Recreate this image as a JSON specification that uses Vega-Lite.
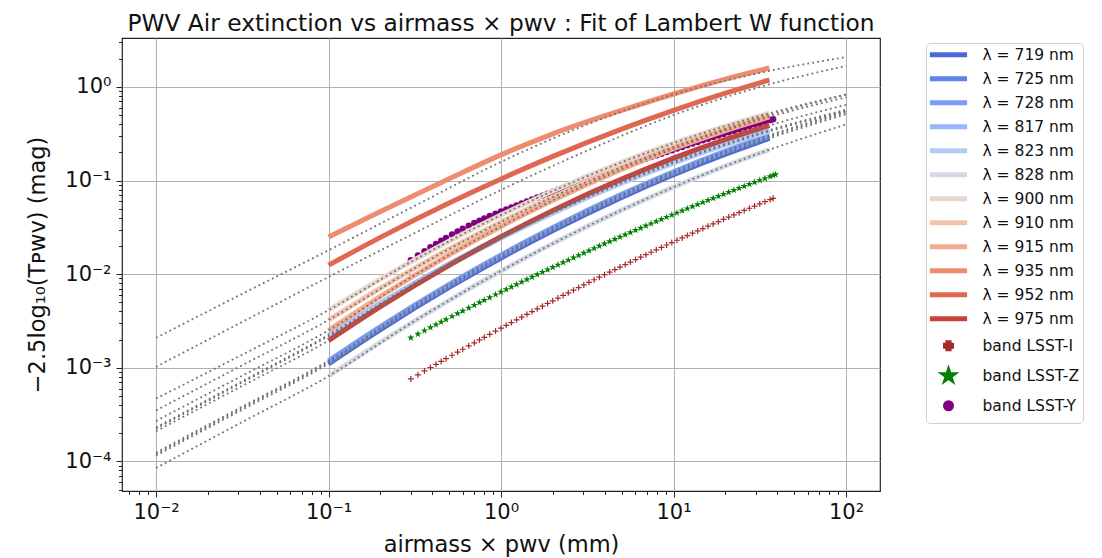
{
"$schema":"https://vega.github.io/schema/vega-lite/v6.json",
"width":758,"height":453,
"autosize":{"type":"none"},
"padding":{"left":122,"top":38,"right":222,"bottom":67},
"background":"white",
"config":{
 "font":"DejaVu Sans",
 "view":{"stroke":"#222","strokeWidth":1.2},
 "axis":{"domain":false,"labelFont":"DejaVu Sans","titleFont":"DejaVu Sans","labelFontSize":21,"titleFontSize":22.5,"titleFontWeight":"normal","labelColor":"#111","titleColor":"#111","tickColor":"#222","labelOverlap":false,"labelFlush":false,"tickSize":6},
 "title":{"font":"DejaVu Sans","fontSize":23.3,"fontWeight":"normal","color":"#111"}
},
"title":{"text":"PWV Air extinction vs airmass × pwv : Fit of Lambert W function","offset":-5},
"datasets":{
"lines":[
{"s":"λ = 719 nm","x":0.1,"y":0.001102},{"s":"λ = 719 nm","x":0.2,"y":0.002559},{"s":"λ = 719 nm","x":0.5,"y":0.007215},{"s":"λ = 719 nm","x":1,"y":0.0149},{"s":"λ = 719 nm","x":2,"y":0.02926},{"s":"λ = 719 nm","x":5,"y":0.06609},{"s":"λ = 719 nm","x":10,"y":0.1154},{"s":"λ = 719 nm","x":20,"y":0.1916},{"s":"λ = 719 nm","x":36,"y":0.283},
{"s":"λ = 725 nm","x":0.1,"y":0.001148},{"s":"λ = 725 nm","x":0.2,"y":0.002666},{"s":"λ = 725 nm","x":0.5,"y":0.007516},{"s":"λ = 725 nm","x":1,"y":0.01552},{"s":"λ = 725 nm","x":2,"y":0.03048},{"s":"λ = 725 nm","x":5,"y":0.06884},{"s":"λ = 725 nm","x":10,"y":0.1202},{"s":"λ = 725 nm","x":20,"y":0.1996},{"s":"λ = 725 nm","x":36,"y":0.2948},
{"s":"λ = 728 nm","x":0.1,"y":0.001188},{"s":"λ = 728 nm","x":0.2,"y":0.002759},{"s":"λ = 728 nm","x":0.5,"y":0.007779},{"s":"λ = 728 nm","x":1,"y":0.01606},{"s":"λ = 728 nm","x":2,"y":0.03155},{"s":"λ = 728 nm","x":5,"y":0.07125},{"s":"λ = 728 nm","x":10,"y":0.1244},{"s":"λ = 728 nm","x":20,"y":0.2066},{"s":"λ = 728 nm","x":36,"y":0.3051},
{"s":"λ = 817 nm","x":0.1,"y":0.00224},{"s":"λ = 817 nm","x":0.2,"y":0.004912},{"s":"λ = 817 nm","x":0.5,"y":0.01284},{"s":"λ = 817 nm","x":1,"y":0.025},{"s":"λ = 817 nm","x":2,"y":0.04626},{"s":"λ = 817 nm","x":5,"y":0.09652},{"s":"λ = 817 nm","x":10,"y":0.1586},{"s":"λ = 817 nm","x":20,"y":0.2475},{"s":"λ = 817 nm","x":36,"y":0.3469},
{"s":"λ = 823 nm","x":0.1,"y":0.002173},{"s":"λ = 823 nm","x":0.2,"y":0.004765},{"s":"λ = 823 nm","x":0.5,"y":0.01245},{"s":"λ = 823 nm","x":1,"y":0.02425},{"s":"λ = 823 nm","x":2,"y":0.04487},{"s":"λ = 823 nm","x":5,"y":0.09362},{"s":"λ = 823 nm","x":10,"y":0.1538},{"s":"λ = 823 nm","x":20,"y":0.2401},{"s":"λ = 823 nm","x":36,"y":0.3365},
{"s":"λ = 828 nm","x":0.1,"y":0.0008137},{"s":"λ = 828 nm","x":0.2,"y":0.001873},{"s":"λ = 828 nm","x":0.5,"y":0.005245},{"s":"λ = 828 nm","x":1,"y":0.01081},{"s":"λ = 828 nm","x":2,"y":0.02127},{"s":"λ = 828 nm","x":5,"y":0.04834},{"s":"λ = 828 nm","x":10,"y":0.08517},{"s":"λ = 828 nm","x":20,"y":0.1431},{"s":"λ = 828 nm","x":36,"y":0.2139},
{"s":"λ = 900 nm","x":0.1,"y":0.004121},{"s":"λ = 900 nm","x":0.2,"y":0.00885},{"s":"λ = 900 nm","x":0.5,"y":0.02249},{"s":"λ = 900 nm","x":1,"y":0.0428},{"s":"λ = 900 nm","x":2,"y":0.07745},{"s":"λ = 900 nm","x":5,"y":0.1567},{"s":"λ = 900 nm","x":10,"y":0.2512},{"s":"λ = 900 nm","x":20,"y":0.3828},{"s":"λ = 900 nm","x":36,"y":0.5248},
{"s":"λ = 910 nm","x":0.1,"y":0.003236},{"s":"λ = 910 nm","x":0.2,"y":0.0071},{"s":"λ = 910 nm","x":0.5,"y":0.01855},{"s":"λ = 910 nm","x":1,"y":0.03614},{"s":"λ = 910 nm","x":2,"y":0.0669},{"s":"λ = 910 nm","x":5,"y":0.1395},{"s":"λ = 910 nm","x":10,"y":0.2293},{"s":"λ = 910 nm","x":20,"y":0.3578},{"s":"λ = 910 nm","x":36,"y":0.5014},
{"s":"λ = 915 nm","x":0.1,"y":0.002512},{"s":"λ = 915 nm","x":0.2,"y":0.0058},{"s":"λ = 915 nm","x":0.5,"y":0.01604},{"s":"λ = 915 nm","x":1,"y":0.03236},{"s":"λ = 915 nm","x":2,"y":0.06155},{"s":"λ = 915 nm","x":5,"y":0.1317},{"s":"λ = 915 nm","x":10,"y":0.2188},{"s":"λ = 915 nm","x":20,"y":0.3428},{"s":"λ = 915 nm","x":36,"y":0.4789},
{"s":"λ = 935 nm","x":0.1,"y":0.02489},{"s":"λ = 935 nm","x":0.2,"y":0.04677},{"s":"λ = 935 nm","x":0.5,"y":0.1047},{"s":"λ = 935 nm","x":1,"y":0.1884},{"s":"λ = 935 nm","x":2,"y":0.3162},{"s":"λ = 935 nm","x":5,"y":0.5623},{"s":"λ = 935 nm","x":10,"y":0.8414},{"s":"λ = 935 nm","x":20,"y":1.216},{"s":"λ = 935 nm","x":36,"y":1.596},
{"s":"λ = 952 nm","x":0.1,"y":0.01248},{"s":"λ = 952 nm","x":0.2,"y":0.02474},{"s":"λ = 952 nm","x":0.5,"y":0.05762},{"s":"λ = 952 nm","x":1,"y":0.1042},{"s":"λ = 952 nm","x":2,"y":0.1813},{"s":"λ = 952 nm","x":5,"y":0.3546},{"s":"λ = 952 nm","x":10,"y":0.5625},{"s":"λ = 952 nm","x":20,"y":0.8577},{"s":"λ = 952 nm","x":36,"y":1.189},
{"s":"λ = 975 nm","x":0.1,"y":0.00195},{"s":"λ = 975 nm","x":0.2,"y":0.004494},{"s":"λ = 975 nm","x":0.5,"y":0.01243},{"s":"λ = 975 nm","x":1,"y":0.02512},{"s":"λ = 975 nm","x":2,"y":0.048},{"s":"λ = 975 nm","x":5,"y":0.1036},{"s":"λ = 975 nm","x":10,"y":0.1738},{"s":"λ = 975 nm","x":20,"y":0.2754},{"s":"λ = 975 nm","x":36,"y":0.3894}
],
"fits":[
{"s":"719","x":0.01,"y":0.0001152},{"s":"719","x":0.03162,"y":0.0003566},{"s":"719","x":0.1,"y":0.001102},{"s":"719","x":0.3162,"y":0.004344},{"s":"719","x":1,"y":0.0149},{"s":"719","x":3.162,"y":0.04446},{"s":"719","x":10,"y":0.1154},{"s":"719","x":31.62,"y":0.2605},{"s":"719","x":100,"y":0.512},
{"s":"725","x":0.01,"y":0.00012},{"s":"725","x":0.03162,"y":0.0003715},{"s":"725","x":0.1,"y":0.001148},{"s":"725","x":0.3162,"y":0.004525},{"s":"725","x":1,"y":0.01552},{"s":"725","x":3.162,"y":0.04631},{"s":"725","x":10,"y":0.1202},{"s":"725","x":31.62,"y":0.2714},{"s":"725","x":100,"y":0.5333},
{"s":"728","x":0.01,"y":0.0001242},{"s":"728","x":0.03162,"y":0.0003845},{"s":"728","x":0.1,"y":0.001188},{"s":"728","x":0.3162,"y":0.004683},{"s":"728","x":1,"y":0.01606},{"s":"728","x":3.162,"y":0.04793},{"s":"728","x":10,"y":0.1244},{"s":"728","x":31.62,"y":0.2809},{"s":"728","x":100,"y":0.552},
{"s":"817","x":0.01,"y":0.00023},{"s":"817","x":0.03162,"y":0.0007178},{"s":"817","x":0.1,"y":0.00224},{"s":"817","x":0.3162,"y":0.00803},{"s":"817","x":1,"y":0.025},{"s":"817","x":3.162,"y":0.06758},{"s":"817","x":10,"y":0.1586},{"s":"817","x":31.62,"y":0.3231},{"s":"817","x":100,"y":0.5716},
{"s":"823","x":0.01,"y":0.000223},{"s":"823","x":0.03162,"y":0.0006963},{"s":"823","x":0.1,"y":0.002173},{"s":"823","x":0.3162,"y":0.007789},{"s":"823","x":1,"y":0.02425},{"s":"823","x":3.162,"y":0.06555},{"s":"823","x":10,"y":0.1538},{"s":"823","x":31.62,"y":0.3134},{"s":"823","x":100,"y":0.5545},
{"s":"828","x":0.01,"y":0.000085},{"s":"828","x":0.03162,"y":0.000263},{"s":"828","x":0.1,"y":0.0008137},{"s":"828","x":0.3162,"y":0.003167},{"s":"828","x":1,"y":0.01081},{"s":"828","x":3.162,"y":0.0324},{"s":"828","x":10,"y":0.08517},{"s":"828","x":31.62,"y":0.1964},{"s":"828","x":100,"y":0.3973},
{"s":"900","x":0.01,"y":0.0004677},{"s":"900","x":0.03162,"y":0.00138},{"s":"900","x":0.1,"y":0.004121},{"s":"900","x":0.3162,"y":0.01426},{"s":"900","x":1,"y":0.0428},{"s":"900","x":3.162,"y":0.1114},{"s":"900","x":10,"y":0.2512},{"s":"900","x":31.62,"y":0.4912},{"s":"900","x":100,"y":0.8325},
{"s":"910","x":0.01,"y":0.00035},{"s":"910","x":0.03162,"y":0.001064},{"s":"910","x":0.1,"y":0.003236},{"s":"910","x":0.3162,"y":0.01161},{"s":"910","x":1,"y":0.03614},{"s":"910","x":3.162,"y":0.09768},{"s":"910","x":10,"y":0.2293},{"s":"910","x":31.62,"y":0.467},{"s":"910","x":100,"y":0.8263},
{"s":"915","x":0.01,"y":0.00027},{"s":"915","x":0.03162,"y":0.0008222},{"s":"915","x":0.1,"y":0.002512},{"s":"915","x":0.3162,"y":0.009772},{"s":"915","x":1,"y":0.03236},{"s":"915","x":3.162,"y":0.0912},{"s":"915","x":10,"y":0.2188},{"s":"915","x":31.62,"y":0.4467},{"s":"915","x":100,"y":0.7762},
{"s":"935","x":0.01,"y":0.002089},{"s":"935","x":0.03162,"y":0.006166},{"s":"935","x":0.1,"y":0.01799},{"s":"935","x":0.3162,"y":0.0537},{"s":"935","x":1,"y":0.1585},{"s":"935","x":3.162,"y":0.3981},{"s":"935","x":10,"y":0.8318},{"s":"935","x":31.62,"y":1.413},{"s":"935","x":100,"y":2.089},
{"s":"952","x":0.01,"y":0.001023},{"s":"952","x":0.03162,"y":0.00309},{"s":"952","x":0.1,"y":0.009333},{"s":"952","x":0.3162,"y":0.02754},{"s":"952","x":1,"y":0.07943},{"s":"952","x":3.162,"y":0.2089},{"s":"952","x":10,"y":0.5012},{"s":"952","x":31.62,"y":1.0},{"s":"952","x":100,"y":1.679},
{"s":"975","x":0.01,"y":0.00021},{"s":"975","x":0.03162,"y":0.0006397},{"s":"975","x":0.1,"y":0.00195},{"s":"975","x":0.3162,"y":0.007562},{"s":"975","x":1,"y":0.02512},{"s":"975","x":3.162,"y":0.0714},{"s":"975","x":10,"y":0.1738},{"s":"975","x":31.62,"y":0.362},{"s":"975","x":100,"y":0.6457}
],
"bandI":[
{"s":"band LSST-I","x":0.3,"y":0.00076},{"s":"band LSST-I","x":0.33,"y":0.000841},{"s":"band LSST-I","x":0.36,"y":0.000924},{"s":"band LSST-I","x":0.39,"y":0.001006},{"s":"band LSST-I","x":0.42,"y":0.001087},{"s":"band LSST-I","x":0.45,"y":0.001169},{"s":"band LSST-I","x":0.48,"y":0.001251},{"s":"band LSST-I","x":0.52,"y":0.00136},{"s":"band LSST-I","x":0.56,"y":0.001469},{"s":"band LSST-I","x":0.6,"y":0.001577},{"s":"band LSST-I","x":0.65,"y":0.001713},{"s":"band LSST-I","x":0.7,"y":0.001848},{"s":"band LSST-I","x":0.75,"y":0.001982},{"s":"band LSST-I","x":0.8,"y":0.002116},{"s":"band LSST-I","x":0.86,"y":0.002277},{"s":"band LSST-I","x":0.93,"y":0.002463},
{"s":"band LSST-I","x":1.0,"y":0.002649},{"s":"band LSST-I","x":1.072,"y":0.002837},{"s":"band LSST-I","x":1.148,"y":0.003038},{"s":"band LSST-I","x":1.23,"y":0.003253},{"s":"band LSST-I","x":1.318,"y":0.003481},{"s":"band LSST-I","x":1.413,"y":0.003724},{"s":"band LSST-I","x":1.514,"y":0.003983},{"s":"band LSST-I","x":1.622,"y":0.004258},{"s":"band LSST-I","x":1.738,"y":0.00455},{"s":"band LSST-I","x":1.862,"y":0.004862},{"s":"band LSST-I","x":1.995,"y":0.005194},{"s":"band LSST-I","x":2.138,"y":0.005547},{"s":"band LSST-I","x":2.291,"y":0.005922},{"s":"band LSST-I","x":2.455,"y":0.006321},{"s":"band LSST-I","x":2.63,"y":0.006744},{"s":"band LSST-I","x":2.818,"y":0.007192},{"s":"band LSST-I","x":3.02,"y":0.007669},{"s":"band LSST-I","x":3.236,"y":0.008175},{"s":"band LSST-I","x":3.467,"y":0.008711},{"s":"band LSST-I","x":3.715,"y":0.00928},{"s":"band LSST-I","x":3.981,"y":0.009881},{"s":"band LSST-I","x":4.266,"y":0.01052},{"s":"band LSST-I","x":4.571,"y":0.01119},{"s":"band LSST-I","x":4.898,"y":0.01191},{"s":"band LSST-I","x":5.248,"y":0.01266},{"s":"band LSST-I","x":5.623,"y":0.01347},{"s":"band LSST-I","x":6.026,"y":0.01432},{"s":"band LSST-I","x":6.457,"y":0.01521},{"s":"band LSST-I","x":6.918,"y":0.01615},{"s":"band LSST-I","x":7.413,"y":0.01715},{"s":"band LSST-I","x":7.943,"y":0.0182},{"s":"band LSST-I","x":8.511,"y":0.01932},{"s":"band LSST-I","x":9.12,"y":0.02049},{"s":"band LSST-I","x":9.772,"y":0.02173},{"s":"band LSST-I","x":10.47,"y":0.02303},{"s":"band LSST-I","x":11.22,"y":0.02441},{"s":"band LSST-I","x":12.02,"y":0.02586},{"s":"band LSST-I","x":12.88,"y":0.02739},{"s":"band LSST-I","x":13.8,"y":0.02899},{"s":"band LSST-I","x":14.79,"y":0.03068},{"s":"band LSST-I","x":15.85,"y":0.03255},{"s":"band LSST-I","x":16.98,"y":0.03444},{"s":"band LSST-I","x":18.2,"y":0.03642},{"s":"band LSST-I","x":19.5,"y":0.03851},{"s":"band LSST-I","x":20.89,"y":0.04071},{"s":"band LSST-I","x":22.39,"y":0.043},{"s":"band LSST-I","x":23.99,"y":0.04544},{"s":"band LSST-I","x":25.7,"y":0.04798},{"s":"band LSST-I","x":27.54,"y":0.05064},{"s":"band LSST-I","x":29.51,"y":0.05346},{"s":"band LSST-I","x":31.62,"y":0.05638},{"s":"band LSST-I","x":33.88,"y":0.05949},{"s":"band LSST-I","x":36.31,"y":0.06272},{"s":"band LSST-I","x":37.8,"y":0.06467}
],
"bandZ":[
{"s":"band LSST-Z","x":0.3,"y":0.00209},{"s":"band LSST-Z","x":0.33,"y":0.002293},{"s":"band LSST-Z","x":0.36,"y":0.002494},{"s":"band LSST-Z","x":0.39,"y":0.002694},{"s":"band LSST-Z","x":0.42,"y":0.002891},{"s":"band LSST-Z","x":0.45,"y":0.003087},{"s":"band LSST-Z","x":0.48,"y":0.003281},{"s":"band LSST-Z","x":0.52,"y":0.003538},{"s":"band LSST-Z","x":0.56,"y":0.003793},{"s":"band LSST-Z","x":0.6,"y":0.004046},{"s":"band LSST-Z","x":0.65,"y":0.004355},{"s":"band LSST-Z","x":0.7,"y":0.004665},{"s":"band LSST-Z","x":0.75,"y":0.004972},{"s":"band LSST-Z","x":0.8,"y":0.005273},{"s":"band LSST-Z","x":0.86,"y":0.005632},{"s":"band LSST-Z","x":0.93,"y":0.006045},
{"s":"band LSST-Z","x":1.0,"y":0.006457},{"s":"band LSST-Z","x":1.072,"y":0.006871},{"s":"band LSST-Z","x":1.148,"y":0.007307},{"s":"band LSST-Z","x":1.23,"y":0.007769},{"s":"band LSST-Z","x":1.318,"y":0.00826},{"s":"band LSST-Z","x":1.413,"y":0.008778},{"s":"band LSST-Z","x":1.514,"y":0.009327},{"s":"band LSST-Z","x":1.622,"y":0.009906},{"s":"band LSST-Z","x":1.738,"y":0.01052},{"s":"band LSST-Z","x":1.862,"y":0.01117},{"s":"band LSST-Z","x":1.995,"y":0.01185},{"s":"band LSST-Z","x":2.138,"y":0.01257},{"s":"band LSST-Z","x":2.291,"y":0.01333},{"s":"band LSST-Z","x":2.455,"y":0.01414},{"s":"band LSST-Z","x":2.63,"y":0.01499},{"s":"band LSST-Z","x":2.818,"y":0.01588},{"s":"band LSST-Z","x":3.02,"y":0.01682},{"s":"band LSST-Z","x":3.236,"y":0.01781},{"s":"band LSST-Z","x":3.467,"y":0.01886},{"s":"band LSST-Z","x":3.715,"y":0.01997},{"s":"band LSST-Z","x":3.981,"y":0.02112},{"s":"band LSST-Z","x":4.266,"y":0.02235},{"s":"band LSST-Z","x":4.571,"y":0.02363},{"s":"band LSST-Z","x":4.898,"y":0.02498},{"s":"band LSST-Z","x":5.248,"y":0.0264},{"s":"band LSST-Z","x":5.623,"y":0.0279},{"s":"band LSST-Z","x":6.026,"y":0.02947},{"s":"band LSST-Z","x":6.457,"y":0.03112},{"s":"band LSST-Z","x":6.918,"y":0.03286},{"s":"band LSST-Z","x":7.413,"y":0.03467},{"s":"band LSST-Z","x":7.943,"y":0.03658},{"s":"band LSST-Z","x":8.511,"y":0.03858},{"s":"band LSST-Z","x":9.12,"y":0.04069},{"s":"band LSST-Z","x":9.772,"y":0.0429},{"s":"band LSST-Z","x":10.47,"y":0.0452},{"s":"band LSST-Z","x":11.22,"y":0.04761},{"s":"band LSST-Z","x":12.02,"y":0.05016},{"s":"band LSST-Z","x":12.88,"y":0.05282},{"s":"band LSST-Z","x":13.8,"y":0.05559},{"s":"band LSST-Z","x":14.79,"y":0.05851},{"s":"band LSST-Z","x":15.85,"y":0.06154},{"s":"band LSST-Z","x":16.98,"y":0.06473},{"s":"band LSST-Z","x":18.2,"y":0.06806},{"s":"band LSST-Z","x":19.5,"y":0.07153},{"s":"band LSST-Z","x":20.89,"y":0.07516},{"s":"band LSST-Z","x":22.39,"y":0.07894},{"s":"band LSST-Z","x":23.99,"y":0.08293},{"s":"band LSST-Z","x":25.7,"y":0.08707},{"s":"band LSST-Z","x":27.54,"y":0.09138},{"s":"band LSST-Z","x":29.51,"y":0.09588},{"s":"band LSST-Z","x":31.62,"y":0.1006},{"s":"band LSST-Z","x":33.88,"y":0.1055},{"s":"band LSST-Z","x":36.31,"y":0.1106},{"s":"band LSST-Z","x":37.8,"y":0.1136},{"s":"band LSST-Z","x":39.0,"y":0.1161}
],
"bandY":[
{"s":"band LSST-Y","x":0.3,"y":0.01408},{"s":"band LSST-Y","x":0.33,"y":0.01586},{"s":"band LSST-Y","x":0.36,"y":0.01762},{"s":"band LSST-Y","x":0.39,"y":0.01936},{"s":"band LSST-Y","x":0.42,"y":0.02105},{"s":"band LSST-Y","x":0.45,"y":0.02272},{"s":"band LSST-Y","x":0.48,"y":0.02436},{"s":"band LSST-Y","x":0.52,"y":0.02647},{"s":"band LSST-Y","x":0.56,"y":0.02852},{"s":"band LSST-Y","x":0.6,"y":0.03049},{"s":"band LSST-Y","x":0.65,"y":0.03287},{"s":"band LSST-Y","x":0.7,"y":0.03514},{"s":"band LSST-Y","x":0.75,"y":0.03731},{"s":"band LSST-Y","x":0.8,"y":0.03937},{"s":"band LSST-Y","x":0.86,"y":0.04173},{"s":"band LSST-Y","x":0.93,"y":0.04435},
{"s":"band LSST-Y","x":1.0,"y":0.04677},{"s":"band LSST-Y","x":1.072,"y":0.04915},{"s":"band LSST-Y","x":1.148,"y":0.05164},{"s":"band LSST-Y","x":1.23,"y":0.05424},{"s":"band LSST-Y","x":1.318,"y":0.05695},{"s":"band LSST-Y","x":1.413,"y":0.05978},{"s":"band LSST-Y","x":1.514,"y":0.06274},{"s":"band LSST-Y","x":1.622,"y":0.06583},{"s":"band LSST-Y","x":1.738,"y":0.06906},{"s":"band LSST-Y","x":1.862,"y":0.07244},{"s":"band LSST-Y","x":1.995,"y":0.07596},{"s":"band LSST-Y","x":2.138,"y":0.07962},{"s":"band LSST-Y","x":2.291,"y":0.08344},{"s":"band LSST-Y","x":2.455,"y":0.08742},{"s":"band LSST-Y","x":2.63,"y":0.09159},{"s":"band LSST-Y","x":2.818,"y":0.09591},{"s":"band LSST-Y","x":3.02,"y":0.1004},{"s":"band LSST-Y","x":3.236,"y":0.1051},{"s":"band LSST-Y","x":3.467,"y":0.11},{"s":"band LSST-Y","x":3.715,"y":0.1151},{"s":"band LSST-Y","x":3.981,"y":0.1203},{"s":"band LSST-Y","x":4.266,"y":0.1258},{"s":"band LSST-Y","x":4.571,"y":0.1315},{"s":"band LSST-Y","x":4.898,"y":0.1374},{"s":"band LSST-Y","x":5.248,"y":0.1436},{"s":"band LSST-Y","x":5.623,"y":0.15},{"s":"band LSST-Y","x":6.026,"y":0.1567},{"s":"band LSST-Y","x":6.457,"y":0.1636},{"s":"band LSST-Y","x":6.918,"y":0.1708},{"s":"band LSST-Y","x":7.413,"y":0.1782},{"s":"band LSST-Y","x":7.943,"y":0.1859},{"s":"band LSST-Y","x":8.511,"y":0.1939},{"s":"band LSST-Y","x":9.12,"y":0.2022},{"s":"band LSST-Y","x":9.772,"y":0.2108},{"s":"band LSST-Y","x":10.47,"y":0.2197},{"s":"band LSST-Y","x":11.22,"y":0.229},{"s":"band LSST-Y","x":12.02,"y":0.2385},{"s":"band LSST-Y","x":12.88,"y":0.2484},{"s":"band LSST-Y","x":13.8,"y":0.2587},{"s":"band LSST-Y","x":14.79,"y":0.2693},{"s":"band LSST-Y","x":15.85,"y":0.2803},{"s":"band LSST-Y","x":16.98,"y":0.2916},{"s":"band LSST-Y","x":18.2,"y":0.3033},{"s":"band LSST-Y","x":19.5,"y":0.3154},{"s":"band LSST-Y","x":20.89,"y":0.3279},{"s":"band LSST-Y","x":22.39,"y":0.3408},{"s":"band LSST-Y","x":23.99,"y":0.3542},{"s":"band LSST-Y","x":25.7,"y":0.368},{"s":"band LSST-Y","x":27.54,"y":0.3822},{"s":"band LSST-Y","x":29.51,"y":0.3969},{"s":"band LSST-Y","x":31.62,"y":0.4121},{"s":"band LSST-Y","x":33.88,"y":0.4277},{"s":"band LSST-Y","x":36.31,"y":0.4437},{"s":"band LSST-Y","x":37.8,"y":0.4533}
]
},
"encoding":{
 "x":{"field":"x","type":"quantitative","scale":{"type":"log","domain":[0.00635,157.4],"nice":false},
  "axis":{"title":"airmass × pwv (mm)","grid":true,"orient":"bottom",
   "values":[0.007,0.008,0.009,0.01,0.02,0.03,0.04,0.05,0.06,0.07,0.08,0.09,0.1,0.2,0.3,0.4,0.5,0.6,0.7,0.8,0.9,1,2,3,4,5,6,7,8,9,10,20,30,40,50,60,70,80,90,100],
   "labelExpr":"datum.value == 0.01 ? '10⁻²' : datum.value == 0.1 ? '10⁻¹' : datum.value == 1 ? '10⁰' : datum.value == 10 ? '10¹' : datum.value == 100 ? '10²' : ''",
   "tickDash":{"condition":{"test":"abs(log(datum.value)/LN10 - round(log(datum.value)/LN10)) < 0.01","value":[6,0]},"value":[3.5,20]},
   "gridColor":{"condition":{"test":"abs(log(datum.value)/LN10 - round(log(datum.value)/LN10)) < 0.01","value":"#b0b0b0"},"value":"rgba(0,0,0,0)"},
   "labelPadding":4,"titlePadding":11}},
 "y":{"field":"y","type":"quantitative","scale":{"type":"log","domain":[0.0000482,3.338],"nice":false},
  "axis":{"title":"−2.5log₁₀(Tᴘᴡᴠ) (mag)","grid":true,"orient":"left",
   "values":[0.00005,0.00006,0.00007,0.00008,0.00009,0.0001,0.0002,0.0003,0.0004,0.0005,0.0006,0.0007,0.0008,0.0009,0.001,0.002,0.003,0.004,0.005,0.006,0.007,0.008,0.009,0.01,0.02,0.03,0.04,0.05,0.06,0.07,0.08,0.09,0.1,0.2,0.3,0.4,0.5,0.6,0.7,0.8,0.9,1,2,3],
   "labelExpr":"datum.value == 0.0001 ? '10⁻⁴' : datum.value == 0.001 ? '10⁻³' : datum.value == 0.01 ? '10⁻²' : datum.value == 0.1 ? '10⁻¹' : datum.value == 1 ? '10⁰' : ''",
   "tickDash":{"condition":{"test":"abs(log(datum.value)/LN10 - round(log(datum.value)/LN10)) < 0.01","value":[6,0]},"value":[3.5,20]},
   "gridColor":{"condition":{"test":"abs(log(datum.value)/LN10 - round(log(datum.value)/LN10)) < 0.01","value":"#b0b0b0"},"value":"rgba(0,0,0,0)"},
   "labelPadding":5,"titlePadding":15}},
 "color":{"field":"s","type":"nominal",
  "scale":{"domain":["λ = 719 nm","λ = 725 nm","λ = 728 nm","λ = 817 nm","λ = 823 nm","λ = 828 nm","λ = 900 nm","λ = 910 nm","λ = 915 nm","λ = 935 nm","λ = 952 nm","λ = 975 nm","band LSST-I","band LSST-Z","band LSST-Y"],
   "range":["#4a68d9","#5f85ea","#7a9cf6","#97b6fc","#b3cbf8","#d3dae6","#e8d7cd","#f2c4ad","#f4ab8d","#ef8c6e","#e06850","#c9433a","#a52a2a","#008000","#800080"]},
  "legend":{"title":null,"orient":"none","legendX":804,"legendY":5,"labelFont":"DejaVu Sans","labelFontSize":15.5,"labelColor":"#111","labelLimit":300,
   "symbolType":"M-6.2,0H6.2","symbolSize":36,"symbolStrokeWidth":5,"rowPadding":3,"labelOffset":37,"padding":4,
   "strokeColor":"#d0d0d0","fillColor":"white","cornerRadius":4,
   "encode":{"symbols":{"update":{
     "shape":{"signal":"datum.value == 'band LSST-I' ? 'M-1,-0.2H-0.2V-1H0.2V-0.2H1V0.2H0.2V1H-0.2V0.2H-1Z' : datum.value == 'band LSST-Z' ? 'M0,-1.15L0.258,-0.355L1.094,-0.355L0.418,0.136L0.676,0.93L0,0.439L-0.676,0.93L-0.418,0.136L-1.094,-0.355L-0.258,-0.355Z' : datum.value == 'band LSST-Y' ? 'circle' : 'M-6.2,0H6.2'"},
     "fill":{"signal":"indexof(datum.value, 'band') == 0 ? scale('color', datum.value) : 'transparent'"},
     "stroke":{"signal":"indexof(datum.value, 'band') == 0 ? 'transparent' : scale('color', datum.value)"},
     "strokeWidth":{"value":5},
     "opacity":{"value":1},
     "x":{"value":18.5}}}}}}
},
"layer":[
 {"data":{"name":"bandI"},"mark":{"type":"point","filled":true,"opacity":1,"shape":"M-1,-0.2H-0.2V-1H0.2V-0.2H1V0.2H0.2V1H-0.2V0.2H-1Z"},"encoding":{"size":{"value":36}}},
 {"data":{"name":"bandZ"},"mark":{"type":"point","filled":true,"opacity":1,"shape":"M0,-1L0.2245,-0.309L0.951,-0.309L0.3633,0.118L0.588,0.809L0,0.382L-0.588,0.809L-0.3633,0.118L-0.951,-0.309L-0.2245,-0.309Z"},"encoding":{"size":{"value":60}}},
 {"data":{"name":"bandY"},"mark":{"type":"point","filled":true,"opacity":1,"shape":"circle"},"encoding":{"size":{"value":42}}},
 {"data":{"name":"lines"},"mark":{"type":"line","strokeWidth":5,"interpolate":"monotone"}},
 {"data":{"name":"fits"},"mark":{"type":"line","strokeWidth":1.8,"strokeDash":[1.8,3.2],"interpolate":"monotone"},
  "encoding":{"color":{"value":"#707070"},"detail":{"field":"s","type":"nominal"}}}
]
}
